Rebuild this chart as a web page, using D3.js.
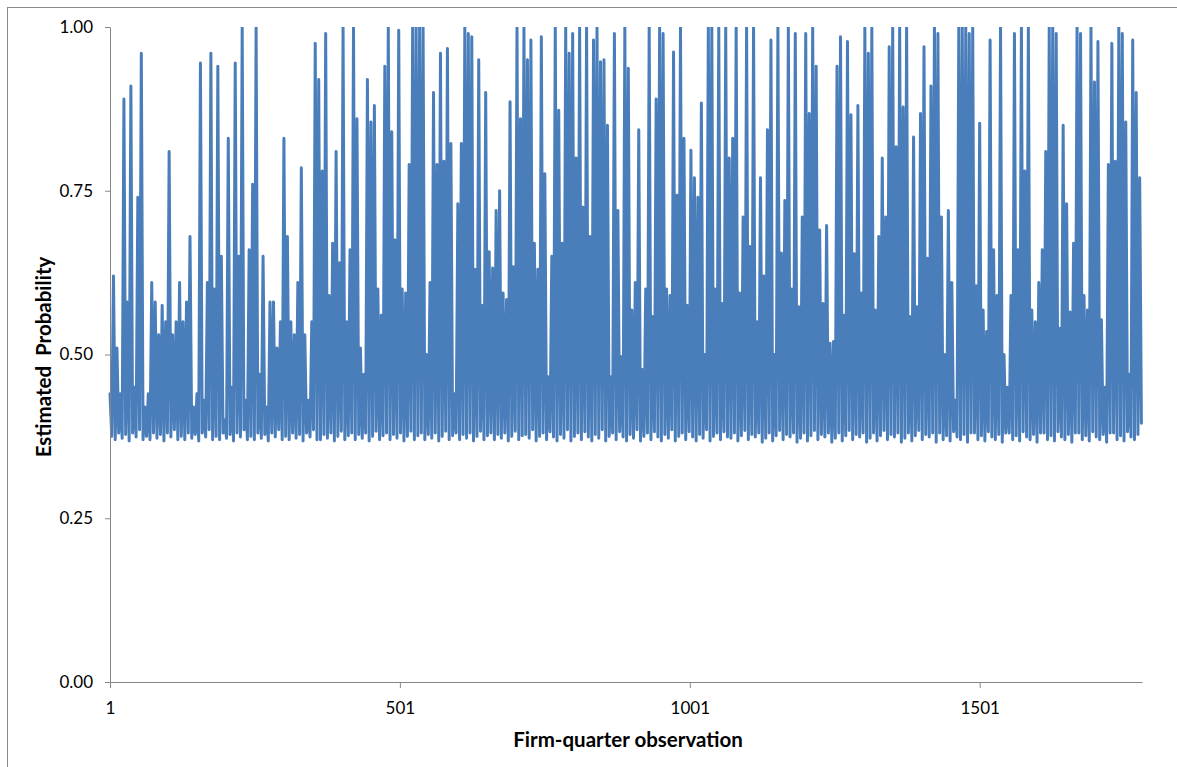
<!DOCTYPE html>
<html>
<head>
<meta charset="utf-8">
<script src="https://cdn.jsdelivr.net/npm/d3@7"></script>
<style>
  body { margin: 0; background: #fff; }
  svg { display: block; }
  .axis text { font-family: Lato, "Open Sans", sans-serif; font-size: 17px; fill: #000; }
  .axis path, .axis line { stroke: #868686; }
  .title { font-family: Lato, "Open Sans", sans-serif; font-size: 20.5px; font-weight: bold; fill: #000; }
</style>
</head>
<body>
<div id="chart"></div>
<script>
// estimated probability per firm-quarter, every 3rd observation
const probObs1to358 = [
  .44,.375, .62,.37, .51,.38, .44,.372, .89,.378, .58,.368, .91,.38, .45,.374, .74,.385, .96,.37,
  .42,.375, .44,.37, .61,.38, .58,.372, .53,.378, .575,.368, .55,.38, .81,.374, .53,.385, .55,.37,
  .61,.375, .55,.37, .58,.38, .68,.372, .42,.378, .44,.368, .945,.38, .43,.374, .61,.385, .96,.37,
  .60,.375, .94,.37, .65,.38, .40,.372, .83,.378, .45,.368, .945,.38, .65,.374, 1.0,.385, .43,.37,
  .66,.375, .76,.37, 1.0,.38, .47,.372, .65,.378, .42,.368, .58,.38, .58,.374, .51,.385, .55,.37,
  .83,.375, .68,.37, .55,.38, .53,.372, .61,.378, .785,.368, .53,.38, .43,.374, .55,.385, .975,.37
];
const probObs361to712 = [
  .92,.37, .78,.378, .99,.372, .59,.38, .67,.368, .81,.375, .64,.383, 1.0,.37, .55,.376, .66,.38,
  1.0,.37, .86,.378, .51,.372, .47,.38, .92,.368, .855,.375, .88,.383, .60,.37, .56,.376, .94,.38,
  1.0,.37, .84,.378, .675,.372, .995,.38, .60,.368, .594,.375, .79,.383, 1.0,.37, 1.0,.376, 1.0,.38,
  1.0,.37, .50,.378, .61,.372, .90,.38, .79,.368, .96,.375, .795,.383, .967,.37, .822,.376, .44,.38,
  .73,.37, .822,.378, 1.0,.372, .99,.38, .985,.368, .63,.375, .95,.383, .575,.37, .90,.376, .657,.38,
  .632,.37, .72,.378, .75,.372, .594,.38, .584,.368, .886,.375, .634,.383, 1.0,.37, .86,.376
];
const probObs715to1066 = [
  1.0,.378, .95,.372, .98,.385, .67,.368, .63,.375, .985,.38, .776,.37, .466,.382, .65,.374, 1.0,.368,
  .873,.378, .67,.372, 1.0,.385, .96,.368, .99,.375, .80,.38, 1.0,.37, .725,.382, 1.0,.374, .68,.368,
  .98,.378, 1.0,.372, .947,.385, .95,.368, .85,.375, .466,.38, .99,.37, .72,.382, .497,.374, 1.0,.368,
  .937,.378, .568,.372, .61,.385, .843,.368, .477,.375, .60,.38, 1.0,.37, .558,.382, .89,.374, 1.0,.368,
  .99,.378, .60,.372, .59,.385, .962,.368, .743,.375, 1.0,.38, .83,.37, .575,.382, .812,.374, .77,.368,
  .74,.378, .884,.372, .50,.385, 1.0,.368, 1.0,.375, .60,.38, 1.0,.37, .578,.382, 1.0,.374
];
const probObs1069to1426 = [
  .80,.372, .83,.38, 1.0,.368, .594,.376, .71,.384, 1.0,.37, .665,.378, 1.0,.374, .55,.38, .77,.366,
  .62,.372, .843,.38, .98,.368, .50,.376, 1.0,.384, .655,.37, .735,.378, 1.0,.374, .60,.38, .99,.366,
  .573,.372, .71,.38, .99,.368, .868,.376, 1.0,.384, .94,.37, .69,.378, .578,.374, .697,.38, .517,.366,
  .52,.372, .94,.38, .985,.368, .56,.376, .978,.384, .866,.37, .654,.378, .88,.374, .594,.38, 1.0,.366,
  .96,.372, 1.0,.38, .568,.368, .68,.376, .80,.384, .71,.37, .97,.378, 1.0,.374, .817,.38, 1.0,.366,
  .878,.372, 1.0,.38, .558,.368, .832,.376, .573,.384, .868,.37, .97,.378, .647,.374, .91,.38, 1.0,.366
];
const probObs1429to1780 = [
  .99,.38, .71,.37, .50,.376, .72,.368, .61,.382, .43,.374, 1.0,.37, 1.0,.378, 1.0,.366, .99,.38,
  1.0,.38, .605,.37, .853,.376, .568,.368, .535,.382, .98,.374, .66,.37, .59,.378, 1.0,.366, .50,.38,
  .45,.38, .59,.37, .99,.376, .66,.368, 1.0,.382, .78,.374, 1.0,.37, .568,.378, .55,.366, .61,.38,
  .66,.38, .81,.37, 1.0,.376, 1.0,.368, .99,.382, .54,.374, .85,.37, .73,.378, .565,.366, .67,.38,
  1.0,.38, .99,.37, .59,.376, .568,.368, 1.0,.382, .916,.374, .978,.37, .553,.378, .45,.366, .79,.38,
  .975,.38, .795,.37, 1.0,.376, .99,.368, .855,.382, .47,.374, .98,.37, .90,.378, .77,.395
];
const obsStep = 3;
const xTickObs = [1, 501, 1001, 1501];
const yTicks = [0, 0.25, 0.5, 0.75, 1];

const probability = [].concat(probObs1to358, probObs361to712, probObs715to1066,
    probObs1069to1426, probObs1429to1780);

let width = 1177, height = 767;
let plot = {left: 110, right: 1142, top: 27, bottom: 682};

let svg = d3.select("#chart")
    .append("svg")
    .attr("width", width)
    .attr("height", height);

// outer chart frame
svg.append("rect")
    .attr("x", 7.5).attr("y", 7.5)
    .attr("width", 1300).attr("height", 900)
    .attr("fill", "none")
    .attr("stroke", "#8a8a8a");

let x = d3.scaleLinear()
    .domain([1, 1781])
    .range([plot.left, plot.right]);
let y = d3.scaleLinear()
    .domain([0, 1])
    .range([plot.bottom, plot.top]);

svg.append("clipPath").attr("id", "clip")
    .append("rect")
    .attr("x", plot.left - 5).attr("y", plot.top)
    .attr("width", plot.right - plot.left + 10)
    .attr("height", plot.bottom - plot.top + 10);

// line
let line = d3.line()
    .x((d, i) => x(1 + i * obsStep))
    .y(d => y(d));
svg.append("path")
    .datum(probability)
    .attr("clip-path", "url(#clip)")
    .attr("d", line)
    .attr("fill", "none")
    .attr("stroke", "#4a7ebb")
    .attr("stroke-width", 3)
    .attr("stroke-linejoin", "round")
    .attr("stroke-linecap", "round");

// axes
svg.append("g")
    .attr("class", "axis")
    .attr("transform", `translate(0, ${plot.bottom})`)
    .call(d3.axisBottom(x).tickValues(xTickObs).tickFormat(d3.format("d"))
        .tickSize(6).tickSizeOuter(0).tickPadding(14));
svg.append("g")
    .attr("class", "axis")
    .attr("transform", `translate(${plot.left}, 0)`)
    .call(d3.axisLeft(y).tickValues(yTicks).tickFormat(d3.format(".2f"))
        .tickSize(5).tickSizeOuter(0).tickPadding(12));
svg.selectAll(".axis text").attr("font-family", null).attr("font-size", null);

// titles
svg.append("text")
    .attr("class", "title")
    .attr("x", 628).attr("y", 747)
    .attr("text-anchor", "middle")
    .text("Firm-quarter observation");
svg.append("text")
    .attr("class", "title")
    .attr("transform", "translate(51, 357) rotate(-90)")
    .attr("text-anchor", "middle")
    .style("white-space", "pre")
    .text("Estimated  Probability");
</script>
</body>
</html>
